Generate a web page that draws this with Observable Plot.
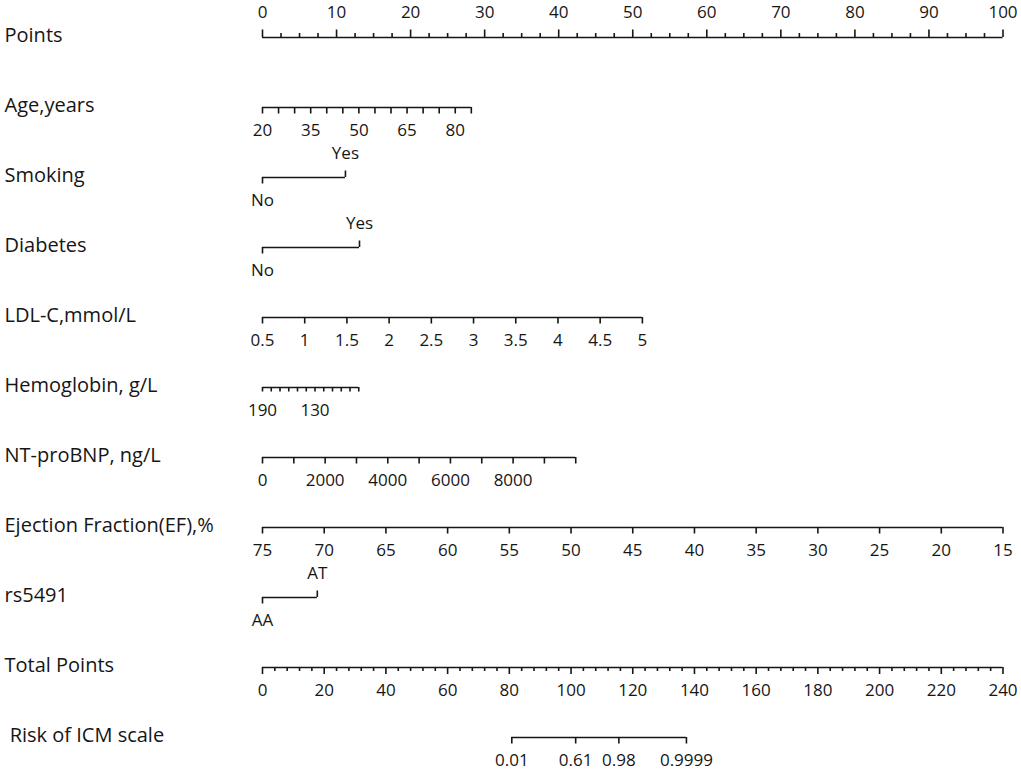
<!DOCTYPE html>
<html><head><meta charset="utf-8">
<script src="https://cdn.jsdelivr.net/npm/d3@7"></script>
<script src="https://cdn.jsdelivr.net/npm/@observablehq/plot@0.6"></script>
<style>body{margin:0;background:#fff;} #chart svg{display:block;}</style>
</head><body><div id="chart"></div>
<script>
// ---- rows of the nomogram ----
const rows = ["Points","Age,years","Smoking","Diabetes","LDL-C,mmol/L","Hemoglobin, g/L",
  "NT-proBNP, ng/L","Ejection Fraction(EF),%","rs5491","Total Points","\u00a0Risk of ICM scale"];

// Points scale
const pointsMajor = [0,10,20,30,40,50,60,70,80,90,100];
const pointsMinorStep = 2.5;

// Age, years (20 -> 0 pts, 85 -> 28.2 pts)
const ageTicks = [20,25,30,35,40,45,50,55,60,65,70,75,80,85];
const ageLabels = [20,35,50,65,80];
const ageRange = [20,85], agePts = [0,28.2];

// Smoking / Diabetes / rs5491 (categorical)
const smokingLevels = ["No","Yes"], smokingPts = [0,11.2];
const diabetesLevels = ["No","Yes"], diabetesPts = [0,13.1];
const rsLevels = ["AA","AT"], rsPts = [0,7.4];

// LDL-C, mmol/L (0.5 -> 0, 5 -> 51.3)
const ldlTicks = [0.5,1,1.5,2,2.5,3,3.5,4,4.5,5];
const ldlRange = [0.5,5], ldlPts = [0,51.3];

// Hemoglobin, g/L (190 -> 0, 80 -> 13.0)
const hbTicks = [190,180,170,160,150,140,130,120,110,100,90,80];
const hbLabels = [190,130];
const hbRange = [190,80], hbPts = [0,13.0];

// NT-proBNP, ng/L (0 -> 0, 10000 -> 42.3)
const bnpTicks = [0,1000,2000,3000,4000,5000,6000,7000,8000,9000,10000];
const bnpLabels = [0,2000,4000,6000,8000];
const bnpRange = [0,10000], bnpPts = [0,42.3];

// Ejection fraction, % (75 -> 0, 15 -> 100)
const efTicks = [75,70,65,60,55,50,45,40,35,30,25,20,15];
const efRange = [75,15], efPts = [0,100];

// Total points
const totalMajor = [0,20,40,60,80,100,120,140,160,180,200,220,240];
const totalMinorStep = 4;
const totalMax = 240;

// Risk of ICM (labels at total-points positions)
const riskLabels = ["0.01","0.61","0.98","0.9999"];
const riskTotal = [80.8,101.5,115.5,137.4];

// ---- build tables ----
const lines = [], tDown = [], tDownShort = [], tUpMajor = [], tUpMinor = [],
      tDownMajor = [], tDownMinor = [], tUp = [], below = [], above = [], topLabels = [];
const R = i => rows[i];
const toPts = t => t * 100 / totalMax;

// Points
lines.push({row: R(0), x1: 0, x2: 100});
d3.range(0, 100 + 1e-9, pointsMinorStep).forEach(v => (pointsMajor.includes(v) ? tUpMajor : tUpMinor).push({row: R(0), x: v}));
pointsMajor.forEach(v => topLabels.push({row: R(0), x: v, text: String(v)}));

// continuous helper
function cont(ri, ticks, labels, range, pts, tickArr) {
  const s = d3.scaleLinear().domain(range).range(pts);
  lines.push({row: R(ri), x1: s(range[0]), x2: s(range[1])});
  ticks.forEach(v => tickArr.push({row: R(ri), x: s(v)}));
  labels.forEach(v => below.push({row: R(ri), x: s(v), text: String(v)}));
}
cont(1, ageTicks, ageLabels, ageRange, agePts, tDown);
cont(4, ldlTicks, ldlTicks, ldlRange, ldlPts, tDown);
cont(5, hbTicks, hbLabels, hbRange, hbPts, tDownShort);
cont(6, bnpTicks, bnpLabels, bnpRange, bnpPts, tDown);
cont(7, efTicks, efTicks, efRange, efPts, tDown);

// categorical helper
function cat(ri, levels, pts) {
  lines.push({row: R(ri), x1: pts[0], x2: pts[1]});
  tDown.push({row: R(ri), x: pts[0]});
  tUp.push({row: R(ri), x: pts[1]});
  below.push({row: R(ri), x: pts[0], text: levels[0]});
  above.push({row: R(ri), x: pts[1], text: levels[1]});
}
cat(2, smokingLevels, smokingPts);
cat(3, diabetesLevels, diabetesPts);
cat(8, rsLevels, rsPts);

// Total points
lines.push({row: R(9), x1: 0, x2: 100});
d3.range(0, totalMax + 1e-9, totalMinorStep).forEach(v => (totalMajor.includes(v) ? tDownMajor : tDownMinor).push({row: R(9), x: toPts(v)}));
totalMajor.forEach(v => below.push({row: R(9), x: toPts(v), text: String(v)}));

// Risk
lines.push({row: R(10), x1: toPts(riskTotal[0]), x2: toPts(riskTotal[riskTotal.length-1])});
riskTotal.forEach((t, i) => { tDown.push({row: R(10), x: toPts(t)}); below.push({row: R(10), x: toPts(t), text: riskLabels[i]}); });

const ink = "#161616", sw = 1.6;
const font = "'Open Sans', 'Noto Sans', sans-serif";
const tickFont = 17, rowFont = 20;

const chart = Plot.plot({
  width: 1021, height: 775,
  marginLeft: 0, marginRight: 0, marginTop: 0, marginBottom: 0,
  x: {domain: [0, 100], range: [262, 1002.5], axis: null},
  y: {type: "band", domain: rows, range: [32, 741], paddingInner: 1, paddingOuter: 0, align: 0.5, axis: null},
  style: {fontFamily: font, background: "#fff"},
  marks: [
    Plot.ruleY(lines, {y: "row", x1: "x1", x2: "x2", stroke: ink, strokeWidth: sw}),
    Plot.tickX(tDown, {x: "x", y: "row", stroke: ink, strokeWidth: sw, insetTop: 0, insetBottom: -6.5}),
    Plot.tickX(tDownShort, {x: "x", y: "row", stroke: ink, strokeWidth: sw, insetTop: 0, insetBottom: -4.5}),
    Plot.tickX(tDownMajor, {x: "x", y: "row", stroke: ink, strokeWidth: sw, insetTop: 0, insetBottom: -7}),
    Plot.tickX(tDownMinor, {x: "x", y: "row", stroke: ink, strokeWidth: sw, insetTop: 0, insetBottom: -4}),
    Plot.tickX(tUpMajor, {x: "x", y: "row", stroke: ink, strokeWidth: sw, insetTop: -7.5, insetBottom: 0}),
    Plot.tickX(tUpMinor, {x: "x", y: "row", stroke: ink, strokeWidth: sw, insetTop: -4, insetBottom: 0}),
    Plot.tickX(tUp, {x: "x", y: "row", stroke: ink, strokeWidth: sw, insetTop: -6.5, insetBottom: 0}),
    Plot.text(below, {x: "x", y: "row", text: "text", dy: 23, fontSize: tickFont, fill: ink}),
    Plot.text(above, {x: "x", y: "row", text: "text", dy: -24, fontSize: tickFont, fill: ink}),
    Plot.text(topLabels, {x: "x", y: "row", text: "text", dy: -25, fontSize: tickFont, fill: ink}),
    Plot.text(rows, {y: d => d, text: d => d, frameAnchor: "left", dx: 4, dy: -2, textAnchor: "start", fontSize: rowFont, fill: ink})
  ]
});
document.getElementById("chart").appendChild(chart);
</script>
</body></html>
